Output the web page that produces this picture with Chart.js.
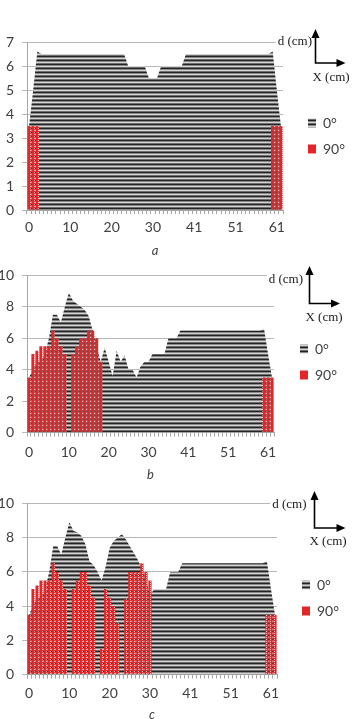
<!DOCTYPE html>
<html><head><meta charset="utf-8">
<script src="https://cdn.jsdelivr.net/npm/chart.js@4.4.1/dist/chart.umd.min.js"></script>
<style>
html,body{margin:0;padding:0;background:#fff;overflow:hidden;width:352px;height:719px;}
canvas{position:absolute;left:0;}
</style></head><body>
<canvas id="ca"></canvas><canvas id="cb"></canvas><canvas id="cc"></canvas>
<script>
// ---- categories (X, cm) ----
const xCats = [0,1,2,3,4,5,6,7,8,9,10,11,12,13,14,15,16,17,18,19,20,21,22,23,24,25,26,27,28,29,30,
  32,33,34,35,36,37,38,39,40,41,42,43,44,45,46,47,48,49,50,51,52,53,54,55,56,57,58,59,60,61,62];
const seriesNames = ['0°', '90°'];
const panelNames = ['a', 'b', 'c'];
const axisNames = ['d (cm)', 'X (cm)'];
const yTicksA = [0,1,2,3,4,5,6,7];
const yTicksBC = [0,2,4,6,8,10];

// ---- panel a ----
const a0 = [3.5,5.0,6.6,
  6.5,6.5,6.5,6.5,6.5,6.5,6.5,6.5,6.5,6.5,6.5,6.5,6.5,6.5,6.5,6.5,6.5,6.5,6.5,6.5,6.5,
  6.0,6.0,6.0,6.0,6.0,
  5.5,5.5,5.5,
  6.0,6.0,6.0,6.0,6.0,6.0,
  6.5,6.5,6.5,6.5,6.5,6.5,6.5,6.5,6.5,6.5,6.5,6.5,6.5,6.5,6.5,6.5,6.5,6.5,6.5,6.5,6.5,
  6.6,5.0,3.5];
const a90 = [3.5,3.5,3.5,
  null,null,null,null,null,null,null,null,null,null,null,null,null,null,null,null,null,null,null,null,
  null,null,null,null,null,null,null,null,null,null,null,null,null,null,null,null,null,null,null,null,
  null,null,null,null,null,null,null,null,null,null,null,null,null,null,null,null,
  3.5,3.5,3.5];

// ---- panel b ----
const b0 = [3.5,4.0,4.5,4.5,5.0,6.0,7.5,7.5,7.0,8.0,
  8.9,8.4,8.2,8.0,7.8,7.4,6.5,5.5,4.5,5.4,
  4.5,3.6,5.2,4.5,4.9,4.0,4.0,3.5,4.2,4.5,
  4.5,5.0,5.0,5.0,5.0,6.0,6.0,6.0,
  6.5,6.5,6.5,6.5,6.5,6.5,6.5,6.5,6.5,6.5,6.5,6.5,6.5,6.5,6.5,6.5,6.5,6.5,6.5,6.5,6.5,
  6.6,5.0,3.5];
const b90 = [3.5,5.0,5.2,5.5,5.5,5.5,6.5,6.0,5.5,5.0,
  null,5.0,5.5,6.0,6.0,6.5,6.5,6.0,4.5,
  null,null,null,null,null,null,null,null,null,null,null,null,null,null,null,null,null,null,null,null,
  null,null,null,null,null,null,null,null,null,null,null,null,null,null,null,null,null,null,null,null,
  3.5,3.5,3.5];

// ---- panel c ----
const c0 = [3.5,4.0,4.5,4.5,5.0,6.0,7.5,7.5,7.0,8.0,
  8.9,8.4,8.3,8.1,7.6,6.6,6.4,6.0,5.5,6.3,
  7.4,7.8,8.0,8.2,7.9,7.5,7.1,6.7,6.2,5.6,
  4.6,5.0,5.0,5.0,5.0,6.0,6.0,6.0,
  6.5,6.5,6.5,6.5,6.5,6.5,6.5,6.5,6.5,6.5,6.5,6.5,6.5,6.5,6.5,6.5,6.5,6.5,6.5,6.5,6.5,
  6.6,5.0,3.5];
const c90 = [3.5,5.0,5.2,5.5,5.5,5.5,6.5,6.0,5.5,5.0,
  null,5.0,5.5,6.0,6.0,5.2,4.5,null,1.5,5.0,
  4.5,4.0,3.0,null,4.4,6.0,6.0,6.0,6.5,6.0,5.5,
  null,null,null,null,null,null,null,null,null,null,null,null,null,null,
  null,null,null,null,null,null,null,null,null,null,null,null,null,null,
  3.5,3.5,3.5];

Chart.defaults.font.family = 'Lato';
Chart.defaults.font.size = 14;
const TXT = '#404040';
const RED = '#e3262a';

function makePattern(w, h, paint) {
  const c = document.createElement('canvas'); c.width = w; c.height = h;
  const x = c.getContext('2d'); paint(x);
  return x.createPattern(c, 'repeat');
}
const stripes = makePattern(1, 4, x => {
  ['#242424', '#8a8a8a', '#d2d2d2', '#6e6e6e'].forEach((col, i) => { x.fillStyle = col; x.fillRect(0, i, 1, 1); });
});
const dots = makePattern(4, 2, x => {
  x.fillStyle = RED; x.fillRect(0, 0, 4, 2);
  x.fillStyle = '#f6b6b6'; x.fillRect(2, 0, 1, 1);
});

function placerPlugin(cfg) {
  return { id: 'legendPlacer', afterLayout(chart) {
    const lg = chart.legend; if (!lg) return;
    const pad = lg.options.labels.padding;
    lg.left = cfg.legendBoxX - pad; lg.width = 60; lg.right = lg.left + 60;
    lg.top = cfg.legendY - cfg.top - 7 - pad; lg.height = 120; lg.bottom = lg.top + 120;
  }};
}
function iconPlugin(cfg) {
  return { id: 'axesIcon', afterDraw(chart) {
    const ctx = chart.ctx, t = cfg.top, a = cfg.icon;
    ctx.save();
    ctx.font = '13px "Liberation Serif"';
    const dw = ctx.measureText(axisNames[0]).width;
    ctx.fillStyle = '#fff'; ctx.fillRect(a.dRight - dw - 2, a.dY - t - 8, dw + 3, 16);
    ctx.strokeStyle = '#000'; ctx.fillStyle = '#000'; ctx.lineWidth = 1.6;
    ctx.beginPath();
    ctx.moveTo(a.x, a.tipY - t + 7); ctx.lineTo(a.x, a.cornerY - t); ctx.lineTo(a.tipX - 7, a.cornerY - t);
    ctx.stroke();
    ctx.beginPath(); ctx.moveTo(a.x, a.tipY - t); ctx.lineTo(a.x - 4, a.tipY - t + 9); ctx.lineTo(a.x + 4, a.tipY - t + 9); ctx.closePath(); ctx.fill();
    ctx.beginPath(); ctx.moveTo(a.tipX, a.cornerY - t); ctx.lineTo(a.tipX - 9, a.cornerY - t - 4); ctx.lineTo(a.tipX - 9, a.cornerY - t + 4); ctx.closePath(); ctx.fill();
    ctx.fillStyle = '#222'; ctx.textBaseline = 'middle';
    ctx.textAlign = 'right'; ctx.fillText(axisNames[0], a.dRight, a.dY - t);
    ctx.textAlign = 'center'; ctx.fillText(axisNames[1], a.xCx, a.xY - t);
    ctx.restore();
  }};
}

function makeChart(id, cfg) {
  const cv = document.getElementById(id);
  cv.width = 352; cv.height = cfg.height; cv.style.top = cfg.top + 'px';
  const yt = cfg.yTicks;
  new Chart(cv, {
    data: {
      labels: xCats,
      datasets: [
        { type: 'line', label: seriesNames[0], data: cfg.d0, fill: 'origin',
          backgroundColor: stripes, borderColor: 'rgba(0,0,0,0)', borderWidth: 0,
          pointRadius: 0, pointHoverRadius: 0, tension: 0 },
        { type: 'bar', label: seriesNames[1], data: cfg.d90, backgroundColor: dots,
          borderWidth: 0, categoryPercentage: 1, barPercentage: 0.8 }
      ]
    },
    options: {
      responsive: false, animation: false, devicePixelRatio: 1,
      layout: { padding: { top: cfg.padTop, right: cfg.padRight, left: 0, bottom: 0 } },
      plugins: {
        filler: { drawTime: 'beforeDatasetsDraw' },
        tooltip: { enabled: false },
        legend: { position: 'right', align: 'start', maxWidth: 1,
          labels: { boxWidth: 8, boxHeight: 9, padding: 12, color: TXT, font: { family: 'Lato', size: 14 },
            generateLabels: chart => {
              const items = Chart.defaults.plugins.legend.labels.generateLabels(chart);
              items.forEach(it => { if (it.datasetIndex === 1) { it.fillStyle = RED; } });
              return items;
            } } }
      },
      scales: {
        x: { type: 'category', offset: true,
          grid: { offset: true, drawOnChartArea: false, drawTicks: true, tickLength: 4, color: '#a6a6a6' },
          border: { display: true, color: '#a6a6a6' },
          ticks: { autoSkip: false, maxRotation: 0, minRotation: 0, padding: cfg.tickPad, color: TXT,
            font: { family: 'Lato', size: 14 },
            callback: function (v, i) { return i % 10 === 0 ? this.getLabelForValue(v) : ''; } },
          title: { display: true, text: cfg.name, color: TXT,
            font: { family: 'Lato', size: 13, style: 'italic' }, padding: { top: cfg.titlePad, bottom: 0 } }
        },
        y: { min: yt[0], max: yt[yt.length - 1],
          ticks: { stepSize: yt[1] - yt[0], padding: 8, color: TXT, font: { family: 'Lato', size: 14 } },
          grid: { color: '#b8b8b8', tickLength: 5 },
          border: { display: true, color: '#a6a6a6' },
          afterFit: s => { s.width = 27; }
        }
      }
    },
    plugins: [placerPlugin(cfg), iconPlugin(cfg)]
  });
}

makeChart('ca', { name: panelNames[0], d0: a0, d90: a90, yTicks: yTicksA,
  top: 20, height: 239, padTop: 22, padRight: 68, tickPad: 5, titlePad: 2.5,
  legendBoxX: 308, legendY: 123,
  icon: { x: 315.5, tipY: 29, cornerY: 63, tipX: 345.5, dRight: 312, dY: 42, xCx: 331, xY: 78 } });
makeChart('cb', { name: panelNames[1], d0: b0, d90: b90, yTicks: yTicksBC,
  top: 259, height: 224, padTop: 12, padRight: 77, tickPad: 7, titlePad: 0,
  legendBoxX: 300, legendY: 349,
  icon: { x: 309.5, tipY: 266, cornerY: 303.5, tipX: 340, dRight: 303, dY: 280, xCx: 324, xY: 318 } });
makeChart('cc', { name: panelNames[2], d0: c0, d90: c90, yTicks: yTicksBC,
  top: 487, height: 236, padTop: 12, padRight: 74, tickPad: 6, titlePad: 0,
  legendBoxX: 302, legendY: 585,
  icon: { x: 314.5, tipY: 491, cornerY: 528, tipX: 345.5, dRight: 306.5, dY: 505, xCx: 328, xY: 542 } });
</script>
</body></html>
